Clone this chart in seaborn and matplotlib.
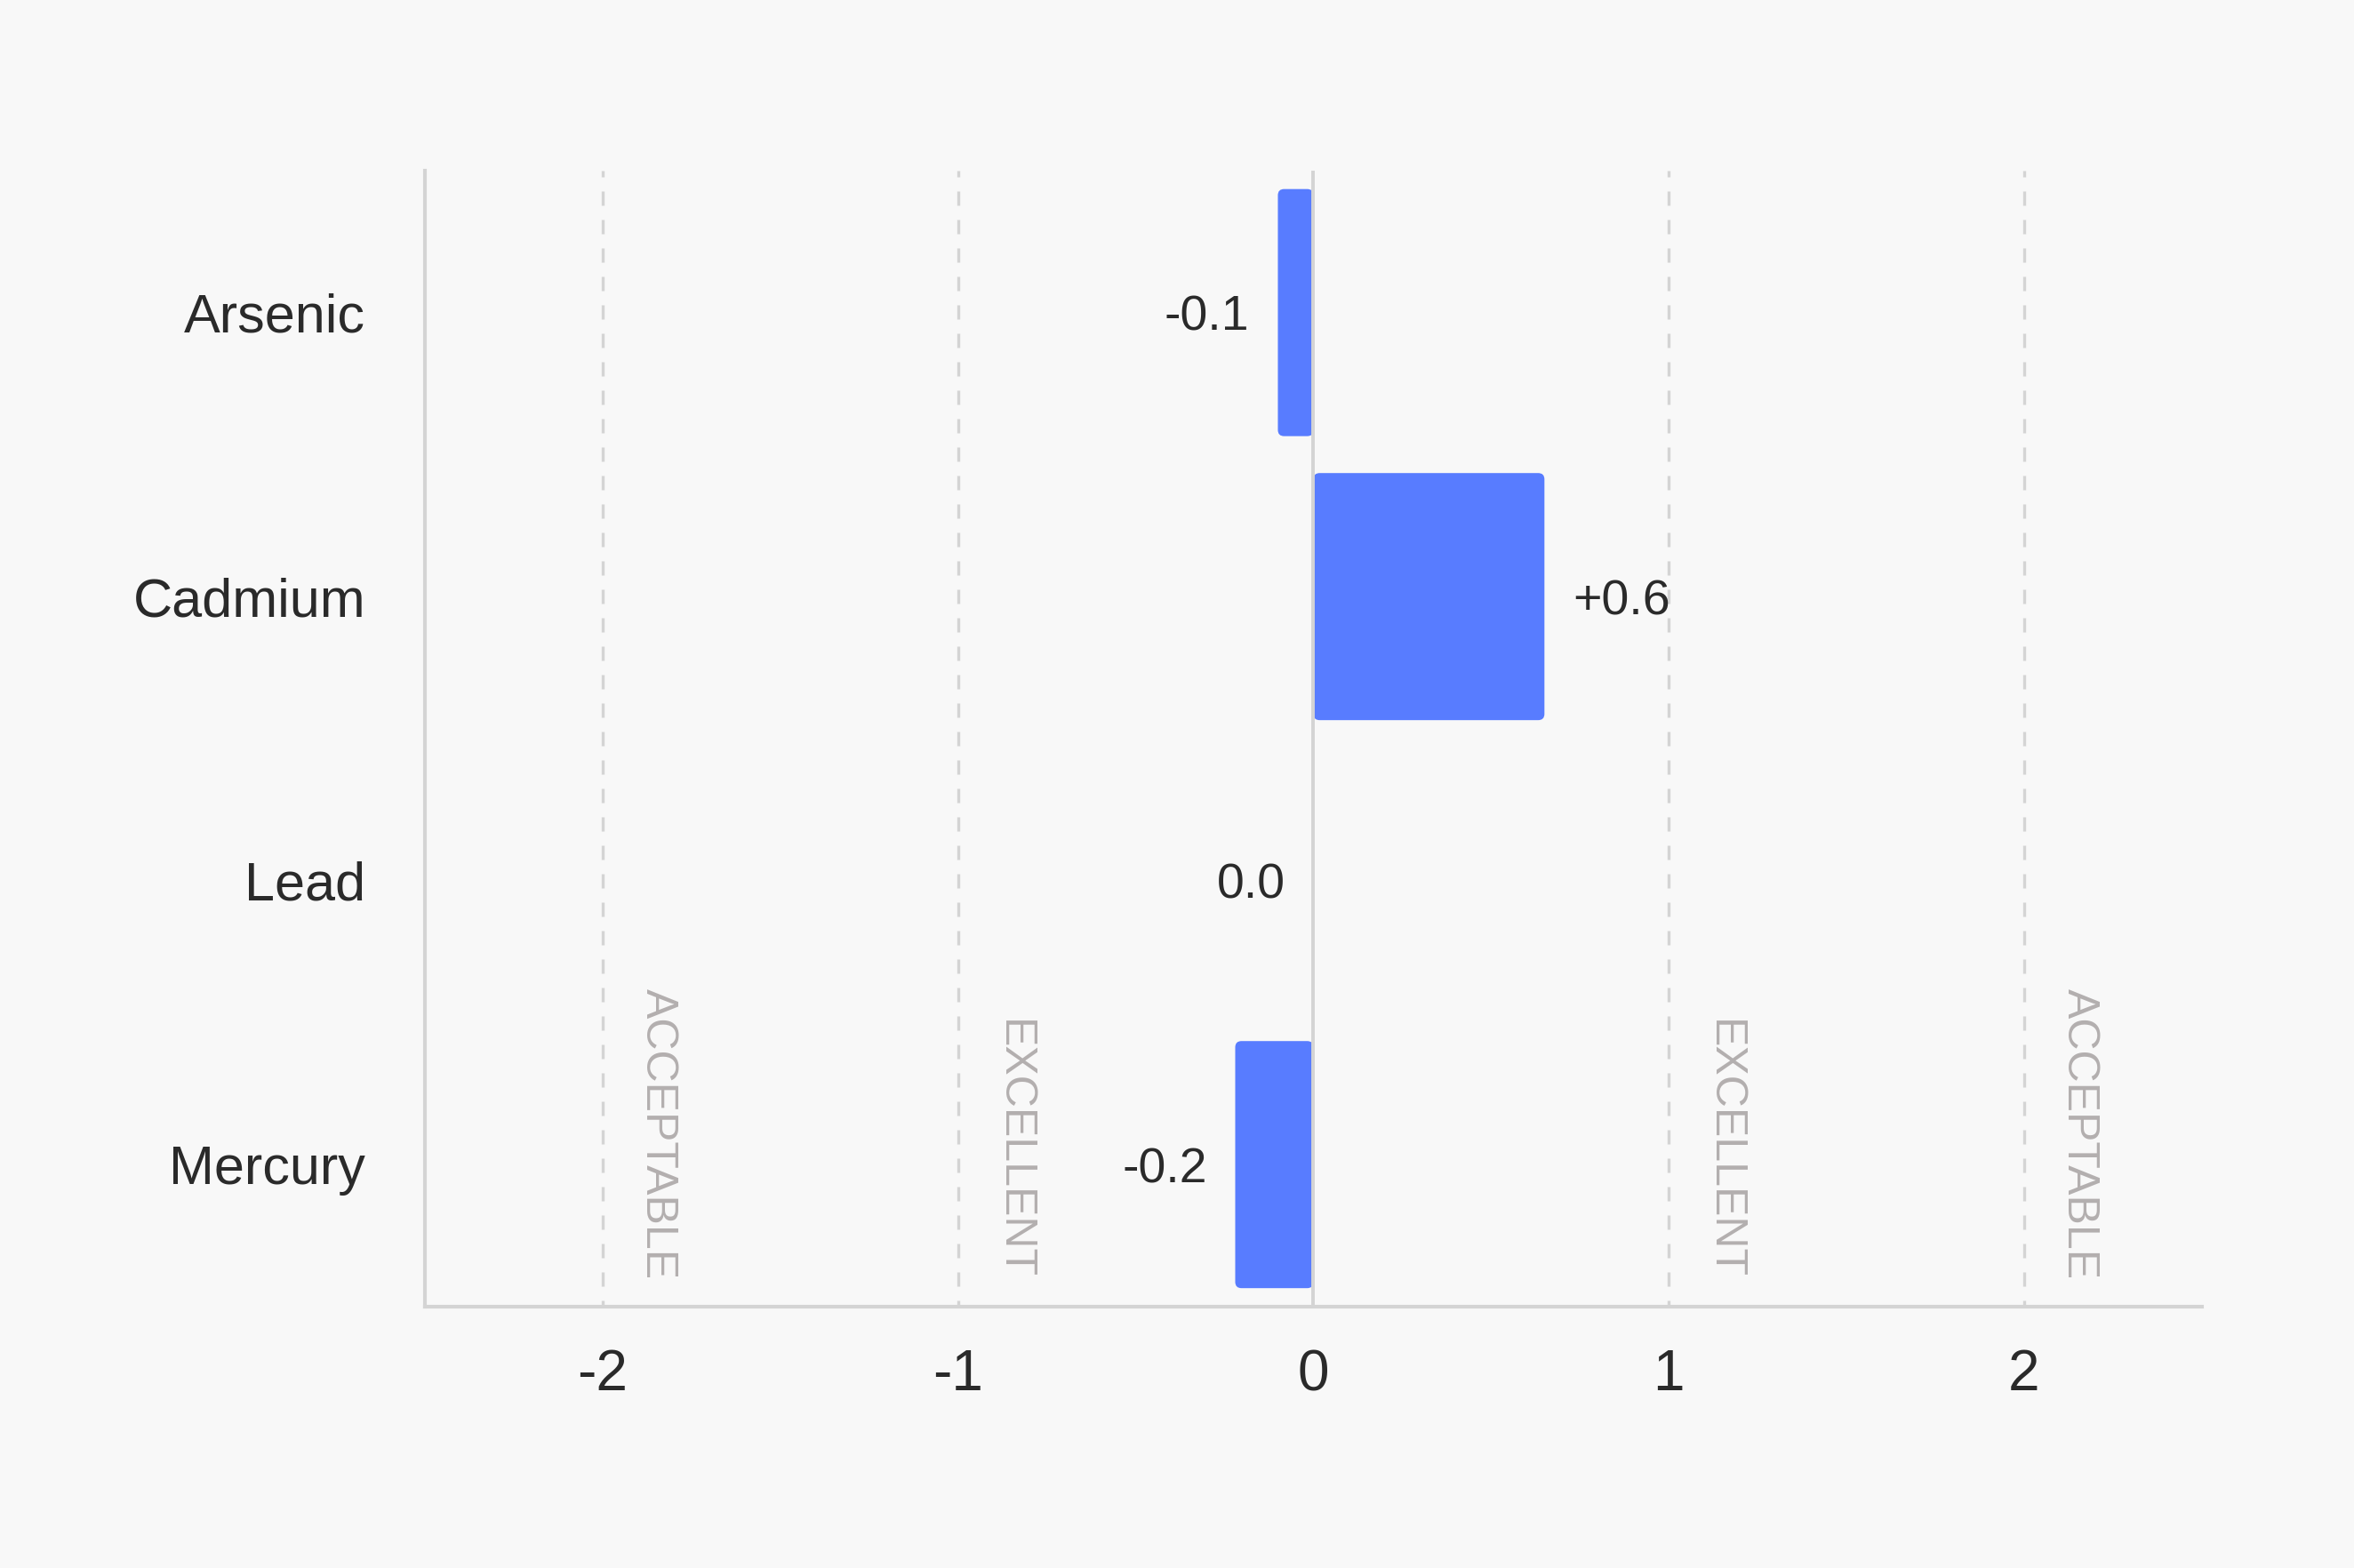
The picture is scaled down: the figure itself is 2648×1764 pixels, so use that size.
import matplotlib
matplotlib.use("Agg")
import matplotlib.pyplot as plt
import seaborn as sns
from matplotlib.patches import FancyBboxPatch

elements = ["Arsenic", "Cadmium", "Lead", "Mercury"]
deviation = [-0.1, 0.65, 0.0, -0.22]
value_labels = ["-0.1", "+0.6", "0.0", "-0.2"]
x_ticks = [-2, -1, 0, 1, 2]
x_tick_labels = ["-2", "-1", "0", "1", "2"]
zone_x = [-2, -1, 1, 2]
zone_names = ["ACCEPTABLE", "EXCELLENT", "EXCELLENT", "ACCEPTABLE"]

bg = "#f8f8f8"
bar_color = "#587cff"
line_grey = "#d4d4d4"
text_dark = "#2a2a2a"
zone_grey = "#b3afaf"

sns.set_theme(style="white")
plt.rcParams["font.family"] = ["Liberation Sans", "DejaVu Sans"]

fig = plt.figure(figsize=(13.24, 8.82), dpi=200, facecolor=bg)
ax = fig.add_axes([0.1805, 0.1667, 0.7549, 0.7245])
ax.set_facecolor(bg)

sns.barplot(x=deviation, y=elements, orient="h", color=bar_color,
            saturation=1, width=0.87, errorbar=None, ax=ax)

# swap the plain bars for slightly rounded ones
for p in list(ax.patches):
    x0, y0, w, h = p.get_x(), p.get_y(), p.get_width(), p.get_height()
    p.remove()
    if w == 0:
        continue
    if w < 0:
        x0, w = x0 + w, -w
    ax.add_patch(FancyBboxPatch((x0, y0), w, h,
                                boxstyle="round,pad=0,rounding_size=0.0175",
                                mutation_aspect=1.25, facecolor=bar_color,
                                edgecolor="none", zorder=2))

ax.set_xlim(-2.5, 2.5)
ax.set_ylim(3.5, -0.5)

for xv in zone_x:
    ax.axvline(xv, color=line_grey, lw=1.2, linestyle=(2.7, (4.8, 4.8)), zorder=1)
ax.axvline(0, color=line_grey, lw=1.4, zorder=3)

for xv, name in zip(zone_x, zone_names):
    ax.annotate(name, xy=(xv, 0), xycoords=("data", "axes fraction"),
                xytext=(14, 11), textcoords="offset points",
                rotation=270, ha="left", va="bottom",
                fontsize=18, color=zone_grey)

for i, (v, lab) in enumerate(zip(deviation, value_labels)):
    right = v > 0
    ax.annotate(lab, xy=(v, i), xytext=(11.5 if right else -11.5, 0),
                textcoords="offset points", ha="left" if right else "right",
                va="center_baseline", fontsize=20, color=text_dark)

ax.set_xticks(x_ticks)
ax.set_xticklabels(x_tick_labels, fontsize=23, color=text_dark)
ax.tick_params(axis="x", length=0, pad=17)
ax.tick_params(axis="y", length=0, pad=24, labelsize=22, labelcolor=text_dark)
ax.set_xlabel("")
ax.set_ylabel("")

for side in ["top", "right"]:
    ax.spines[side].set_visible(False)
for side in ["left", "bottom"]:
    ax.spines[side].set_color(line_grey)
    ax.spines[side].set_linewidth(1.5)

fig.savefig("out.png", dpi=200, facecolor=bg)
